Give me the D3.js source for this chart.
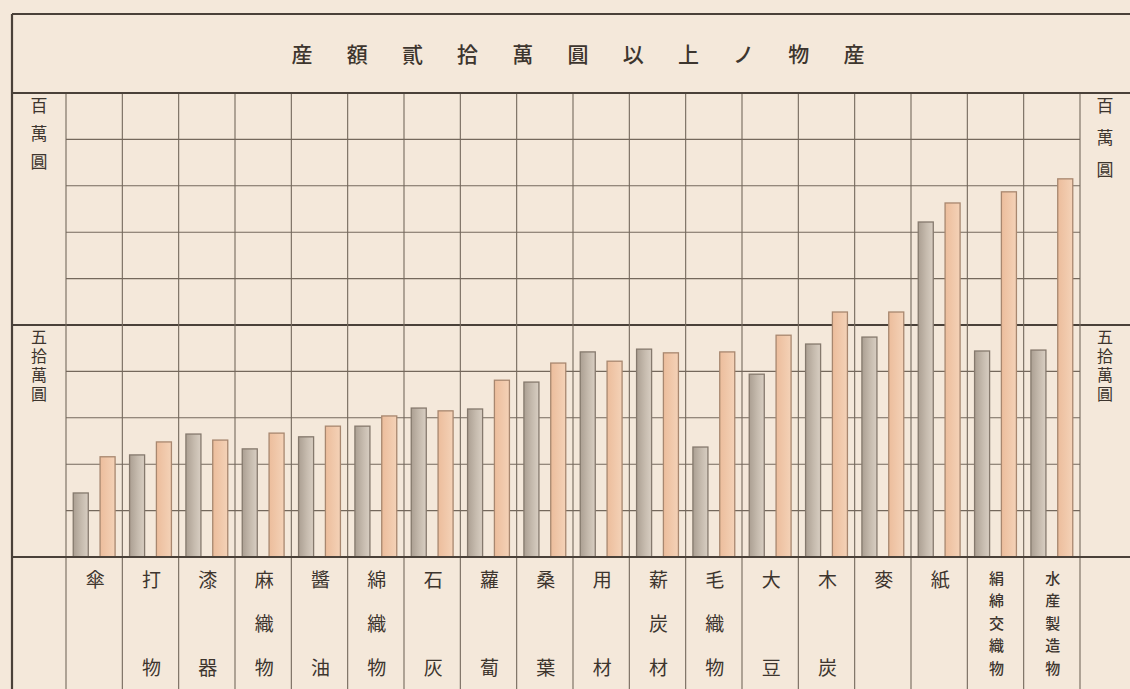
<!DOCTYPE html>
<html><head><meta charset="utf-8">
<script src="https://cdn.jsdelivr.net/npm/d3@7"></script>
<style>
body{margin:0;background:#f5eadd;}
svg{display:block;}
</style></head><body>
<svg id="c" width="1130" height="689"></svg>
<script>
// ---- data (values in thousand yen) ----
const titleText = "産額貳拾萬圓以上ノ物産";
const categories = ["傘","打物","漆器","麻織物","醬油","綿織物","石灰","蘿蔔","桑葉","用材","薪炭材","毛織物","大豆","木炭","麥","紙","絹綿交織物","水産製造物"];
const earlierValues = [138,220,265,233,259,282,321,319,377,442,448,237,394,459,474,722,444,446];
const laterValues   = [216,248,252,267,282,304,315,381,418,422,440,442,478,528,528,763,787,815];
const yTickValues = [0,100,200,300,400,500,600,700,800,900,1000];
const axisLabels = [{value:1000, text:"百萬圓"}, {value:500, text:"五拾萬圓"}];
const seriesKeys = ["earlier","later"];

// ---- layout ----
const W = 1130, H = 689;
const frameL = 12, frameT = 14;
const plotL = 66, plotR = 1080, plotT = 93, plotB = 557;
const ink = "#3d352e", gridC = "#74685c", thickC = "#4a4139";
const font = "'Noto Sans CJK JP','Noto Sans CJK TC',sans-serif";

const svg = d3.select("#c");
const defs = svg.append("defs");
const g1 = defs.append("linearGradient").attr("id","gGray").attr("x1","0").attr("x2","1");
g1.append("stop").attr("offset","0").attr("stop-color","#ab9f92");
g1.append("stop").attr("offset","0.55").attr("stop-color","#c6bbae");
g1.append("stop").attr("offset","1").attr("stop-color","#d8cec2");
const g2 = defs.append("linearGradient").attr("id","gPink").attr("x1","0").attr("x2","1");
g2.append("stop").attr("offset","0").attr("stop-color","#ecbd9c");
g2.append("stop").attr("offset","1").attr("stop-color","#f4d2b7");

svg.append("rect").attr("width",W).attr("height",H).attr("fill","#f4e8da");

const x = d3.scaleBand().domain(categories).range([plotL, plotR]).paddingInner(0).paddingOuter(0);
const xs = d3.scaleBand().domain(seriesKeys).range([0, x.bandwidth()]).paddingInner(0.44).paddingOuter(0.27);
const y = d3.scaleLinear().domain([0,1000]).range([plotB, plotT]);

// horizontal grid lines
svg.append("g").selectAll("line").data(yTickValues).join("line")
  .attr("x1", d => (d % 500 === 0) ? frameL : plotL)
  .attr("x2", d => (d % 500 === 0) ? W : plotR)
  .attr("y1", d => y(d)).attr("y2", d => y(d))
  .attr("stroke", d => (d % 500 === 0) ? thickC : gridC)
  .attr("stroke-width", d => (d % 500 === 0) ? 2 : 1.1);

// vertical column lines
const colEdges = categories.map(c => x(c)).concat([plotR]);
svg.append("g").selectAll("line").data(colEdges).join("line")
  .attr("x1", d => d).attr("x2", d => d)
  .attr("y1", plotT).attr("y2", H)
  .attr("stroke", gridC).attr("stroke-width", 1.1);

// frame
svg.append("line").attr("x1",frameL).attr("x2",W).attr("y1",frameT).attr("y2",frameT).attr("stroke",thickC).attr("stroke-width",2.2);
svg.append("line").attr("x1",frameL).attr("x2",frameL).attr("y1",frameT).attr("y2",H).attr("stroke",thickC).attr("stroke-width",2.2);

// bars
const rows = categories.map((c,i) => ({cat:c, earlier:earlierValues[i], later:laterValues[i]}));
const bars = svg.append("g");
seriesKeys.forEach(k => {
  bars.selectAll("rect."+k).data(rows).join("rect").attr("class",k)
    .attr("x", d => x(d.cat) + xs(k))
    .attr("width", xs.bandwidth())
    .attr("y", d => y(d[k]))
    .attr("height", d => plotB - y(d[k]))
    .attr("fill", k === "earlier" ? "url(#gGray)" : "url(#gPink)")
    .attr("stroke", k === "earlier" ? "#85796d" : "#a8876f")
    .attr("stroke-width", 1.3);
});

// redraw baseline and top rule on top
svg.append("line").attr("x1",frameL).attr("x2",W).attr("y1",plotB).attr("y2",plotB).attr("stroke",thickC).attr("stroke-width",2.2);
svg.append("line").attr("x1",frameL).attr("x2",W).attr("y1",plotT).attr("y2",plotT).attr("stroke",thickC).attr("stroke-width",2.2);

// title
const tchars = Array.from(titleText);
const tStep = 55.2, tCenter = 578;
svg.append("g").selectAll("text").data(tchars).join("text")
  .attr("x", (d,i) => tCenter + (i - (tchars.length-1)/2) * tStep)
  .attr("y", 53)
  .attr("text-anchor","middle").attr("dominant-baseline","central")
  .attr("font-family", font).attr("font-size", 21).attr("font-weight", 500)
  .attr("fill", ink).text(d => d);

// axis unit labels (vertical writing)
const sideX = [39, 1105];
axisLabels.forEach(a => {
  const long = Array.from(a.text).length > 3;
  sideX.forEach((sx, si) => {
    const ls = long ? 3 : (si === 1 ? 15 : 11);
    svg.append("text")
      .attr("x", sx)
      .attr("y", y(a.value) + 4)
      .attr("writing-mode", "vertical-rl")
      .attr("text-anchor", "start")
      .style("letter-spacing", ls + "px")
      .attr("font-family", font).attr("font-size", long ? 16 : 17)
      .attr("fill", ink).text(a.text);
  });
});

// category labels (vertical)
const labelG = svg.append("g");
rows.forEach(d => {
  const chars = Array.from(d.cat);
  const cx = x(d.cat) + x.bandwidth()/2 + 1;
  let ys, fs;
  if (chars.length === 1) { ys = [578]; fs = 19; }
  else if (chars.length === 2) { ys = [578, 666]; fs = 19; }
  else if (chars.length === 3) { ys = [578, 622, 666]; fs = 19; }
  else { ys = chars.map((c,i) => 577 + i * 22.5); fs = 15; }
  labelG.append("g").selectAll("text").data(chars).join("text")
    .attr("x", cx).attr("y", (c,i) => ys[i])
    .attr("text-anchor","middle").attr("dominant-baseline","central")
    .attr("font-family", font).attr("font-size", fs).attr("font-weight", chars.length > 3 ? 500 : 400)
    .attr("fill", ink).text(c => c);
});
</script>
</body></html>
